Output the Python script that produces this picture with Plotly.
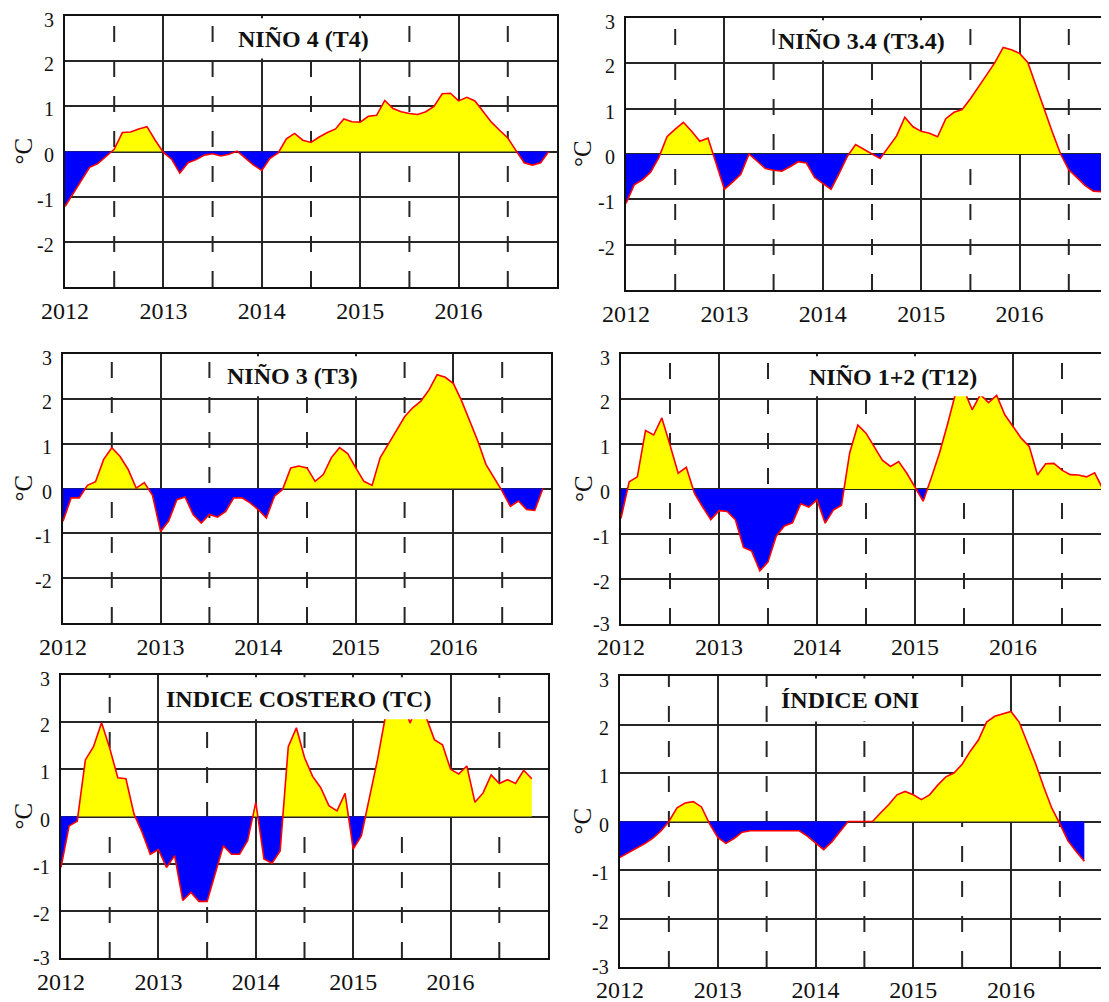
import plotly.graph_objects as go

W, H = 1109, 1002
OFF = 8  # page body margin of the browser

# ---------------- data (monthly, Jan 2012 onward) ----------------
years = [2012, 2013, 2014, 2015, 2016]
year_labels = ["2012", "2013", "2014", "2015", "2016"]
half_years = [2012.5, 2013.5, 2014.5, 2015.5, 2016.5]

nino4 = [-1.22, -0.93, -0.62, -0.35, -0.27, -0.12, 0.05, 0.42, 0.43, 0.50, 0.55, 0.25,
         -0.02, -0.17, -0.48, -0.25, -0.18, -0.08, -0.05, -0.10, -0.06, 0.01, -0.15, -0.30,
         -0.42, -0.15, -0.03, 0.28, 0.40, 0.25, 0.20, 0.32, 0.42, 0.50, 0.72, 0.66,
         0.65, 0.78, 0.80, 1.13, 0.95, 0.88, 0.84, 0.82, 0.88, 1.00, 1.28, 1.29,
         1.12, 1.20, 1.12, 0.88, 0.65, 0.47, 0.30, 0.02, -0.25, -0.30, -0.25, 0.00]

nino34 = [-1.09, -0.68, -0.57, -0.40, -0.08, 0.38, 0.55, 0.70, 0.50, 0.28, 0.35, -0.20,
          -0.78, -0.62, -0.45, 0.00, -0.15, -0.32, -0.36, -0.38, -0.28, -0.17, -0.20, -0.52,
          -0.65, -0.78, -0.43, -0.05, 0.21, 0.10, 0.00, -0.10, 0.15, 0.40, 0.81, 0.60,
          0.50, 0.46, 0.38, 0.78, 0.92, 0.98, 1.22, 1.50, 1.75, 2.02, 2.35, 2.30,
          2.22, 2.02, 1.50, 1.02, 0.48, 0.00, -0.35, -0.52, -0.70, -0.82, -0.83, 0.00]

nino3 = [-0.73, -0.21, -0.21, 0.07, 0.15, 0.65, 0.91, 0.72, 0.43, 0.01, 0.13, -0.15,
         -0.96, -0.72, -0.25, -0.19, -0.58, -0.77, -0.58, -0.64, -0.51, -0.21, -0.21, -0.32,
         -0.47, -0.66, -0.17, -0.02, 0.46, 0.50, 0.46, 0.16, 0.31, 0.69, 0.91, 0.78,
         0.46, 0.16, 0.07, 0.69, 0.99, 1.28, 1.60, 1.80, 1.95, 2.20, 2.54, 2.48,
         2.34, 1.96, 1.51, 1.06, 0.54, 0.24, -0.06, -0.40, -0.28, -0.47, -0.49, 0.00]

nino12 = [-0.65, 0.16, 0.27, 1.30, 1.20, 1.58, 0.98, 0.35, 0.48, -0.10, -0.40, -0.68,
          -0.48, -0.50, -0.68, -1.30, -1.38, -1.82, -1.62, -1.05, -0.82, -0.75, -0.33, -0.40,
          -0.24, -0.76, -0.47, -0.36, 0.80, 1.42, 1.24, 0.94, 0.64, 0.50, 0.61, 0.35,
          0.05, -0.27, 0.25, 0.80, 1.45, 2.15, 2.20, 1.76, 2.10, 1.92, 2.08, 1.65,
          1.39, 1.13, 0.94, 0.31, 0.56, 0.57, 0.42, 0.32, 0.31, 0.27, 0.36, 0.00]

costero = [-1.08, -0.20, -0.10, 1.20, 1.48, 1.99, 1.45, 0.82, 0.80, 0.05, -0.34, -0.80,
           -0.70, -1.08, -0.83, -1.78, -1.61, -1.80, -1.80, -1.18, -0.62, -0.80, -0.80, -0.51,
           0.30, -0.90, -0.99, -0.73, 1.48, 1.88, 1.25, 0.85, 0.61, 0.23, 0.12, 0.49,
           -0.69, -0.41, 0.37, 1.21, 2.15, 2.60, 2.50, 1.98, 2.40, 2.10, 1.63, 1.52,
           1.00, 0.90, 1.07, 0.30, 0.50, 0.88, 0.70, 0.78, 0.70, 0.98, 0.80]

oni = [-0.74, -0.64, -0.55, -0.46, -0.35, -0.20, 0.00, 0.28, 0.38, 0.41, 0.30, -0.05,
       -0.33, -0.45, -0.35, -0.22, -0.19, -0.19, -0.19, -0.19, -0.19, -0.19, -0.19, -0.30,
       -0.45, -0.58, -0.42, -0.20, 0.00, 0.00, 0.00, 0.00, 0.18, 0.35, 0.55, 0.62,
       0.55, 0.45, 0.55, 0.75, 0.92, 1.00, 1.18, 1.45, 1.68, 2.05, 2.17, 2.22,
       2.27, 2.05, 1.62, 1.20, 0.72, 0.28, -0.05, -0.40, -0.62, -0.82]

titles = ["NIÑO 4 (T4)", "NIÑO 3.4 (T3.4)", "NIÑO 3 (T3)", "NIÑO 1+2 (T12)",
          "INDICE COSTERO (TC)", "ÍNDICE ONI"]
series = [nino4, nino34, nino3, nino12, costero, oni]

# ---------------- layout geometry (screen pixels) ----------------
# (left, right, top, bottom, px_per_year, show_minus3, box_x0, box_x1, text_x, degC_x, x_label_standoff)
panels = [
    (65, 557, 16, 287, 98.4, False, 2013.60, 2015.25, 2014.42, 23, 1),
    (626, None, 18, 290, 98.4, False, 2013.53, 2015.34, 2014.39, 582, 1),
    (63, 551, 354, 623, 97.6, False, 2013.56, 2015.14, 2014.35, 23, 1),
    (621, None, 354, 624, 98.0, True, 2013.72, 2015.77, 2014.78, 583, 0),
    (61, 548, 675, 958, 97.4, True, 2013.04, 2015.95, 2014.44, 23, 1),
    (620, None, 676, 967, 97.75, True, 2013.59, 2015.22, 2014.35, 582, 0),
]

SERIF = "Liberation Serif, Times New Roman, serif"
GRID = "#262626"


def split_at_zero(xs, ys):
    X, Y = [], []
    for i in range(len(xs)):
        if i > 0 and ((ys[i - 1] < 0 < ys[i]) or (ys[i - 1] > 0 > ys[i])):
            t = ys[i - 1] / (ys[i - 1] - ys[i])
            X.append(xs[i - 1] + t * (xs[i] - xs[i - 1]))
            Y.append(0.0)
        X.append(xs[i])
        Y.append(ys[i])
    return X, [max(v, 0.0) for v in Y], [min(v, 0.0) for v in Y]


fig = go.Figure()
layout = dict(template="none", width=W, height=H, margin=dict(l=0, r=0, t=0, b=0, pad=0),
              paper_bgcolor="white", plot_bgcolor="white", showlegend=False)
shapes, annotations = [], []

for k, (vals, title, p) in enumerate(zip(series, titles, panels)):
    left, right, top, bottom, ppy, minus3, bx0, bx1, tx, degx, xstand = p
    n = k + 1
    xa = "x" if n == 1 else f"x{n}"
    ya = "y" if n == 1 else f"y{n}"
    xs = [2012 + i / 12 for i in range(len(vals))]
    X, pos, neg = split_at_zero(xs, vals)

    fig.add_trace(go.Scatter(x=X, y=pos, mode="lines", line=dict(width=0),
                             fill="tozeroy", fillcolor="#FFFF00", xaxis=xa, yaxis=ya,
                             hoverinfo="skip"))
    fig.add_trace(go.Scatter(x=X, y=neg, mode="lines", line=dict(width=0),
                             fill="tozeroy", fillcolor="#0000FF", xaxis=xa, yaxis=ya,
                             hoverinfo="skip"))
    fig.add_trace(go.Scatter(x=xs, y=vals, mode="lines",
                             line=dict(color="#FF0000", width=1.6), xaxis=xa, yaxis=ya))

    l_fig = left - OFF
    if right is None:
        r_fig = W
        mirror_y = False
    else:
        r_fig = right - OFF
        mirror_y = True
    xend = 2012 + (r_fig - l_fig) / ppy
    xkey = "xaxis" if n == 1 else f"xaxis{n}"
    ykey = "yaxis" if n == 1 else f"yaxis{n}"
    layout[xkey] = dict(domain=[l_fig / W, r_fig / W], range=[2012, xend],
                        anchor=ya, tickvals=years, ticktext=year_labels,
                        showgrid=True, gridcolor=GRID, gridwidth=2,
                        showline=True, linecolor="#111", linewidth=2, mirror=True,
                        ticks="", ticklabelstandoff=xstand, zeroline=False,
                        automargin=False, ticklabeloverflow="allow",
                        tickfont=dict(family=SERIF, size=24, color="#111"))
    yt = [-3, -2, -1, 0, 1, 2, 3] if minus3 else [-2, -1, 0, 1, 2, 3]
    layout[ykey] = dict(domain=[1 - (bottom - OFF) / H, 1 - (top - OFF) / H], range=[-3, 3],
                        anchor=xa, tickvals=yt, showticklabels=False,
                        showgrid=True, gridcolor=GRID, gridwidth=2,
                        showline=True, linecolor="#111", linewidth=2,
                        mirror=mirror_y, ticks="", zeroline=False, automargin=False)
    # y tick labels (sit slightly below their grid lines, as in the source)
    for v in yt:
        shift = 0 if v == -3 else (-4 if v == 3 else -3)
        annotations.append(dict(xref="paper", yref=ya, x=(l_fig - 9) / W, y=v,
                                text=str(v), showarrow=False, xanchor="right",
                                yanchor="middle", yshift=shift,
                                font=dict(family=SERIF, size=20, color="#111")))

    for hx in half_years:
        shapes.append(dict(type="line", xref=xa, yref=ya, x0=hx, x1=hx, y0=-3, y1=3,
                           line=dict(color=GRID, width=2, dash="16px,19px"),
                           layer="below"))
    shapes.append(dict(type="rect", xref=xa, yref=ya, x0=bx0, x1=bx1, y0=2.06, y1=2.95,
                       fillcolor="white", line=dict(width=0), layer="above"))
    annotations.append(dict(xref=xa, yref=ya, x=tx, y=2.5, text=f"<b>{title}</b>",
                            showarrow=False, xanchor="center", yanchor="middle",
                            font=dict(family=SERIF, size=24, color="#111")))
    annotations.append(dict(xref="paper", yref=ya, x=(degx - OFF) / W, y=0, text="°C",
                            textangle=-90, showarrow=False, xanchor="center",
                            yanchor="middle",
                            font=dict(family=SERIF, size=25, color="#111")))

layout["shapes"] = shapes
layout["annotations"] = annotations
fig.update_layout(**layout)
fig.write_html("out.html")
